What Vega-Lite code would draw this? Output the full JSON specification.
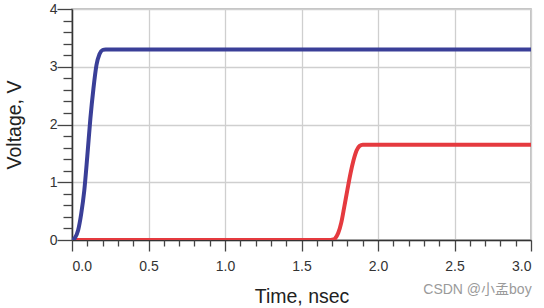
{
  "$schema": "https://vega.github.io/schema/vega-lite/v6.json",
  "width": 459,
  "height": 231,
  "autosize": {"type": "none"},
  "padding": {"left": 72, "top": 9, "right": 13, "bottom": 68},
  "background": "white",
  "config": {
    "font": "Liberation Sans",
    "view": {"stroke": "#b0b0b0", "strokeWidth": 1.5},
    "axis": {"labelFont": "Liberation Sans", "titleFont": "Liberation Sans", "labelColor": "#333", "titleColor": "#222", "tickColor": "#444", "domainColor": "#333", "gridColor": "#cfcfcf", "gridWidth": 1.3}
  },
  "title": {"text": "CSDN @小孟boy", "orient": "bottom", "anchor": "end", "fontSize": 14, "fontWeight": "normal", "color": "#9a9a9a", "font": "Liberation Sans, Noto Sans CJK SC", "offset": -23},
  "datasets": {
    "red": [
      {"t": 0, "v": 0}, {"t": 1.69, "v": 0}, {"t": 1.71, "v": 0.01}, {"t": 1.72, "v": 0.03},
      {"t": 1.74, "v": 0.12}, {"t": 1.76, "v": 0.3}, {"t": 1.78, "v": 0.58}, {"t": 1.80, "v": 0.87},
      {"t": 1.82, "v": 1.15}, {"t": 1.84, "v": 1.38}, {"t": 1.86, "v": 1.55}, {"t": 1.88, "v": 1.63},
      {"t": 1.90, "v": 1.65}, {"t": 3.0, "v": 1.65}
    ],
    "blue": [
      {"t": 0, "v": 0}, {"t": 0.02, "v": 0.04}, {"t": 0.04, "v": 0.17}, {"t": 0.06, "v": 0.45},
      {"t": 0.08, "v": 0.85}, {"t": 0.10, "v": 1.45}, {"t": 0.12, "v": 2.1}, {"t": 0.14, "v": 2.62},
      {"t": 0.16, "v": 3.03}, {"t": 0.18, "v": 3.22}, {"t": 0.20, "v": 3.29}, {"t": 0.22, "v": 3.3},
      {"t": 3.0, "v": 3.3}
    ]
  },
  "layer": [
    {
      "data": {"name": "red"},
      "mark": {"type": "line", "color": "#e53a3f", "strokeWidth": 4, "interpolate": "monotone", "clip": true},
      "encoding": {
        "x": {"field": "t", "type": "quantitative", "scale": {"domain": [0, 3], "nice": false},
          "axis": {"orient": "bottom", "values": [0, 0.5, 1, 1.5, 2, 2.5, 3], "format": ".1f", "grid": true, "tickSize": 11, "tickWidth": 1.3, "labelFontSize": 14, "labelPadding": 8, "title": "Time, nsec", "titleFontSize": 19.5, "titleFontWeight": "normal", "titlePadding": 14, "domainWidth": 1.5}},
        "y": {"field": "v", "type": "quantitative", "scale": {"domain": [0, 4], "nice": false},
          "axis": {"orient": "left", "values": [0, 1, 2, 3, 4], "grid": true, "tickSize": 15, "tickWidth": 1.3, "labelFontSize": 14, "labelPadding": 0, "title": "Voltage, V", "titleFontSize": 19.5, "titleFontWeight": "normal", "titlePadding": 25, "domainWidth": 1.5}}
      }
    },
    {
      "data": {"name": "blue"},
      "mark": {"type": "line", "color": "#3a3f98", "strokeWidth": 4, "interpolate": "monotone", "clip": true},
      "encoding": {
        "x": {"field": "t", "type": "quantitative", "scale": {"domain": [0, 3], "nice": false},
          "axis": {"orient": "bottom", "values": [0.1, 0.2, 0.3, 0.4, 0.6, 0.7, 0.8, 0.9, 1.1, 1.2, 1.3, 1.4, 1.6, 1.7, 1.8, 1.9, 2.1, 2.2, 2.3, 2.4, 2.6, 2.7, 2.8, 2.9], "labels": false, "grid": false, "domain": false, "tickSize": 6, "tickWidth": 1.3, "title": null}},
        "y": {"field": "v", "type": "quantitative", "scale": {"domain": [0, 4], "nice": false},
          "axis": {"orient": "left", "values": [0.2, 0.4, 0.6, 0.8, 1.2, 1.4, 1.6, 1.8, 2.2, 2.4, 2.6, 2.8, 3.2, 3.4, 3.6, 3.8], "labels": false, "grid": false, "domain": false, "tickSize": 9, "tickWidth": 1.3, "title": null}}
      }
    },
    {
      "mark": {"type": "rule", "color": "#333", "strokeWidth": 1.5},
      "encoding": {"y": {"datum": 4, "type": "quantitative", "axis": null}}
    }
  ],
  "resolve": {"axis": {"x": "independent", "y": "independent"}}
}
